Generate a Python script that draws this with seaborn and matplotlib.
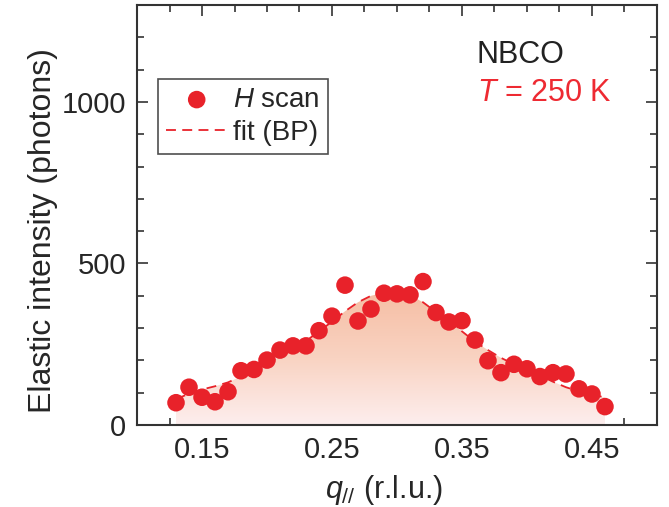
import numpy as np
import pandas as pd
import matplotlib
matplotlib.use('Agg')
import matplotlib.pyplot as plt
import seaborn as sns
from matplotlib.ticker import MultipleLocator
from matplotlib.colors import LinearSegmentedColormap

# measured points (H scan)
q_data = [0.13, 0.14, 0.15, 0.16, 0.17, 0.18, 0.19, 0.20, 0.21, 0.22, 0.23, 0.24,
          0.25, 0.26, 0.27, 0.28, 0.29, 0.30, 0.31, 0.32, 0.33, 0.34, 0.35, 0.36,
          0.37, 0.38, 0.39, 0.40, 0.41, 0.42, 0.43, 0.44, 0.45, 0.46]
I_data = [69, 117, 86, 72, 103, 168, 172, 201, 232, 245, 245, 292,
          337, 433, 322, 359, 408, 406, 403, 444, 348, 319, 323, 263,
          199, 162, 188, 174, 150, 162, 158, 112, 96, 57]

# fit curve (BP)
q_fit = [0.13, 0.14, 0.15, 0.16, 0.17, 0.18, 0.19, 0.20, 0.21, 0.22, 0.23, 0.24,
         0.25, 0.26, 0.27, 0.28, 0.29, 0.30, 0.31, 0.32, 0.33, 0.34, 0.35, 0.36,
         0.37, 0.38, 0.39, 0.40, 0.41, 0.42, 0.43, 0.44, 0.45, 0.46]
I_fit = [80, 97, 110, 120, 132, 150, 170, 190, 212, 235, 260, 290,
         320, 352, 380, 400, 410, 412, 402, 380, 350, 320, 290, 258,
         232, 208, 188, 170, 154, 134, 117, 104, 95, 85]

data = pd.DataFrame({'q': q_data, 'I': I_data})
fit = pd.DataFrame({'q': q_fit, 'I': I_fit})

sns.set_style('ticks')
plt.rcParams['font.family'] = ['Liberation Sans', 'DejaVu Sans']
plt.rcParams['mathtext.fontset'] = 'custom'
plt.rcParams['mathtext.rm'] = 'Liberation Sans'
plt.rcParams['mathtext.it'] = 'Liberation Sans:italic'

red = '#e8222a'

fig = plt.figure(figsize=(6.69, 5.07), dpi=100)
ax = fig.add_axes([0.2048, 0.1617, 0.7772, 0.8283])

# gradient fill under the fit
poly = ax.fill_between(fit['q'], 0, fit['I'], color='none', lw=0)
cmap = LinearSegmentedColormap.from_list('grad', ['#fdeeee', '#f9d3c2', '#f6bea4'])
grad = np.linspace(0, 1, 256).reshape(-1, 1)
img = ax.imshow(grad, cmap=cmap, origin='lower', aspect='auto',
                extent=[min(q_fit), max(q_fit), 0, max(I_fit)], zorder=1)
img.set_clip_path(poly.get_paths()[0], transform=ax.transData)

sns.lineplot(data=fit, x='q', y='I', ax=ax, color=red, lw=1.3,
             linestyle=(0, (5.5, 3.5)), label='fit (BP)', zorder=2)
sns.scatterplot(data=data, x='q', y='I', ax=ax, color=red, s=160,
                edgecolor='none', label=r'$H$ scan', zorder=3)

ax.set_xlim(0.1, 0.5)
ax.set_ylim(0, 1300)
ax.set_xticks([0.15, 0.25, 0.35, 0.45])
ax.set_xticklabels(['0.15', '0.25', '0.35', '0.45'])
ax.set_yticks([0, 500, 1000])
ax.xaxis.set_minor_locator(MultipleLocator(0.025))
ax.yaxis.set_minor_locator(MultipleLocator(100))
ax.tick_params(which='both', direction='in', top=True, right=True,
               labelsize=21, color='#333333', width=1.2)
ax.tick_params(which='major', length=8, pad=8)
ax.tick_params(which='minor', length=5)
for s in ax.spines.values():
    s.set_linewidth(1.5)
    s.set_color('#333333')
    s.set_visible(True)

ax.set_xlabel(r'$q_{//}$ (r.l.u.)', fontsize=22)
ax.xaxis.set_label_coords(0.475, -0.115)
ax.set_ylabel('Elastic intensity (photons)', fontsize=23)
ax.yaxis.set_label_coords(-0.152, 0.462)

handles, labels = ax.get_legend_handles_labels()
leg = ax.legend(handles[::-1], labels[::-1], loc='upper left',
                bbox_to_anchor=(0.04, 0.825), fontsize=20, frameon=True,
                fancybox=False, edgecolor='#222222', handlelength=2.2,
                handletextpad=0.2, borderpad=0.3, labelspacing=0.25,
                borderaxespad=0)
leg.get_frame().set_linewidth(1.2)

ax.text(0.653, 0.88, 'NBCO', transform=ax.transAxes, fontsize=22,
        color='#222222', va='center')
ax.text(0.653, 0.79, r'$T$ = 250 K', transform=ax.transAxes, fontsize=22,
        color='#ee2a32', va='center')

fig.savefig('out.png', dpi=100)
